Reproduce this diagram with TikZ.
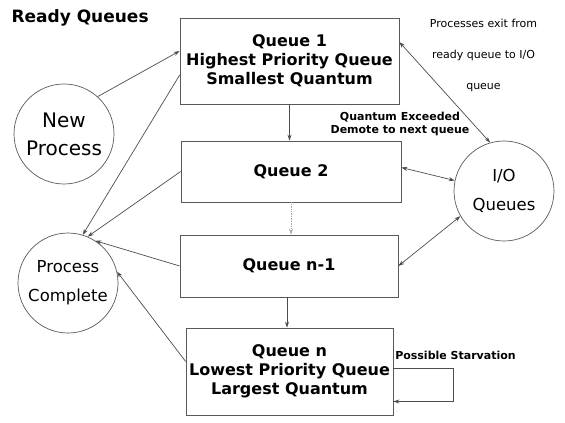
\documentclass[tikz,border=0pt]{standalone}
\usepackage{fontspec}
\setmainfont{DejaVu Sans}
\usetikzlibrary{arrows.meta}

\begin{document}
\begin{tikzpicture}[x=1pt,y=-1pt,
    line/.style={draw=black!65, line width=0.7pt},
    arr/.style={line, -{Stealth[length=6pt,width=4pt]}, black!70},
    twoarr/.style={line, {Stealth[length=6pt,width=4pt]}-{Stealth[length=6pt,width=4pt]}, black!70},
    queue/.style={line, rectangle, align=center, inner sep=0pt, font=\fontsize{16}{19}\selectfont\bfseries},
    ball/.style={line, circle, minimum size=100pt, inner sep=0pt, align=center},
    note/.style={align=center, font=\fontsize{11}{12.5}\selectfont\bfseries}]
    \useasboundingbox (0,0) rectangle (565,423);

    \node[anchor=base west, font=\fontsize{17}{20}\selectfont\bfseries] (title) at (8,23) {Ready Queues};

    % the four ready queues
    \node[queue, minimum width=219pt, minimum height=86pt] (q1) at (289.5,61) {Queue 1\\Highest Priority Queue\\Smallest Quantum};
    \node[queue, minimum width=220pt, minimum height=61pt] (q2) at (291,171.5) {Queue 2};
    \node[queue, minimum width=218pt, minimum height=62pt] (q3) at (289,266) {Queue n-1};
    \node[queue, minimum width=207pt, minimum height=87pt] (qn) at (289.5,371.5) {Queue n\\Lowest Priority Queue\\Largest Quantum};

    \node[ball, font=\fontsize{20}{28}\selectfont] (np) at (64,134) {New\\Process};
    \node[ball, font=\fontsize{16.5}{29}\selectfont] (pc) at (68,283) {Process\\Complete};
    \node[ball, font=\fontsize{16.5}{29}\selectfont] (io) at (504,191) {I/O\\Queues};

    \node[note] (demote) at (400,124) {Quantum Exceeded\\Demote to next queue};
    \node[note, font=\fontsize{11}{31}\selectfont] (exit) at (483.5,55) {Processes exit from\\ready queue to I/O\\queue};
    \node[note] (starve) at (455.5,355) {Possible Starvation};

    \draw[arr] (np.48) -- ([yshift=10pt]q1.west);
    \draw[arr] (q1.south) -- (q1.south |- q2.north);
    \draw[arr, densely dotted, black!35] (q2.south) -- (q2.south |- q3.north);
    \draw[arr] ([xshift=-2pt]q3.south) -- ([xshift=-2pt]q3.south |- qn.north);

    \draw[arr] ([yshift=-14pt]q1.west) -- (pc.73);
    \draw[arr] (q2.west) -- (pc.67);
    \draw[arr] (q3.west) -- (pc.57);
    \draw[arr] ([yshift=10pt]qn.west) -- (pc.13);

    \draw[twoarr] ([yshift=19pt]q1.east) -- (io.106);
    \draw[twoarr] ([yshift=4pt]q2.east) -- (io.168);
    \draw[twoarr] (q3.east) -- (io.210);

    \draw[arr] ([yshift=3pt]qn.east) -- ++(60,0) |- ([yshift=-30pt]qn.east);
\end{tikzpicture}
\end{document}
